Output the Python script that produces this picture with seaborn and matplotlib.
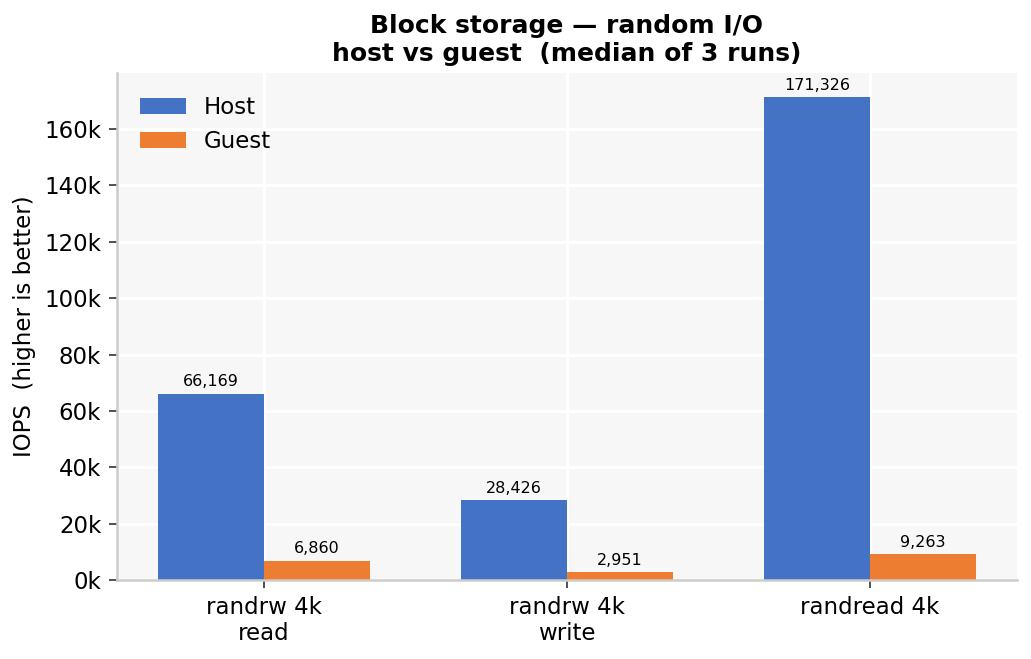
import seaborn as sns
import pandas as pd
import matplotlib.pyplot as plt
from matplotlib.ticker import FuncFormatter, MultipleLocator

workloads = ['randrw 4k\nread', 'randrw 4k\nwrite', 'randread 4k']
host_iops = [66169, 28426, 171326]
guest_iops = [6860, 2951, 9263]

df = pd.DataFrame({
    'workload': workloads * 2,
    'iops': host_iops + guest_iops,
    'side': ['Host'] * 3 + ['Guest'] * 3,
})

sns.set_style("whitegrid", {
    'axes.facecolor': '#f7f7f7',
    'grid.color': 'white',
    'axes.edgecolor': '#cccccc',
    'text.color': 'black',
    'axes.labelcolor': 'black',
    'xtick.color': 'black',
    'ytick.color': 'black',
})
plt.rcParams['font.family'] = ['DejaVu Sans']

fig, ax = plt.subplots(figsize=(1031 / 150, 659 / 150), dpi=150)
sns.barplot(data=df, x='workload', y='iops', hue='side',
            palette={'Host': '#4472C4', 'Guest': '#ED7D31'},
            width=0.7, saturation=1, linewidth=0, ax=ax)

for cont in ax.containers:
    ax.bar_label(cont, labels=[f'{v:,.0f}' for v in cont.datavalues],
                 padding=2, fontsize=7.7)

ax.set_xlim(-0.485, 2.485)
ax.set_ylim(0, max(host_iops) * 1.05)
ax.yaxis.set_major_locator(MultipleLocator(20000))
ax.yaxis.set_major_formatter(FuncFormatter(lambda v, p: f'{v / 1000:.0f}k'))
ax.grid(True, axis='both', color='white', linewidth=1.5)
ax.set_axisbelow(True)
ax.tick_params(axis='both', which='both', length=4, color='#333333',
               labelsize=11, left=True, bottom=True)
sns.despine(ax=ax)
for s in ['left', 'bottom']:
    ax.spines[s].set_color('#cccccc')
    ax.spines[s].set_linewidth(1.2)

ax.set_xlabel('')
ax.set_ylabel('IOPS  (higher is better)', fontsize=11)
ax.set_title('Block storage — random I/O\nhost vs guest  (median of 3 runs)',
             fontsize=12, fontweight='bold')
ax.legend(loc='upper left', frameon=False, fontsize=11, title=None,
          borderaxespad=0.6)

fig.subplots_adjust(left=117 / 1031, right=1017 / 1031,
                    top=1 - 73 / 659, bottom=1 - 580 / 659)
plt.savefig('out.png', dpi=150)
